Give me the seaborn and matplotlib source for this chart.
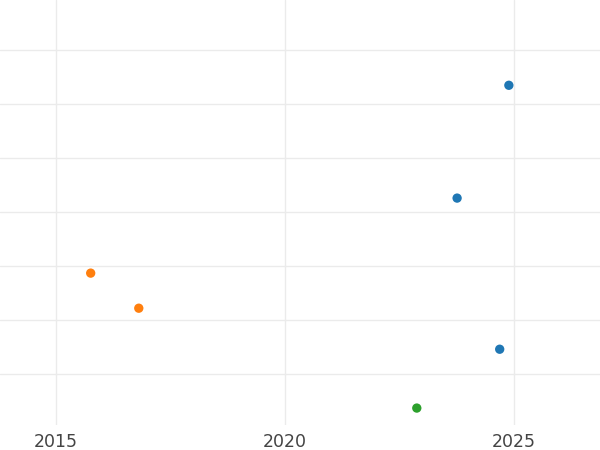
import pandas as pd
import seaborn as sns
import matplotlib.pyplot as plt

# values
years = [2024.89, 2023.76, 2024.69, 2015.76, 2016.81, 2022.88]
values = [5.35, 3.26, 0.46, 1.87, 1.22, -0.63]
groups = ["A", "A", "A", "B", "B", "C"]

df = pd.DataFrame({"year": years, "value": values, "group": groups})

sns.set_style("white")
fig = plt.figure(figsize=(6, 4.5), dpi=100)
ax = fig.add_axes([0, 0.056, 1, 0.944])

sns.scatterplot(data=df, x="year", y="value", hue="group",
                palette=["#1f77b4", "#ff7f0e", "#2ca02c"],
                s=45, edgecolor="none", legend=False, ax=ax, zorder=3)

ax.set_xlim(2013.78, 2026.88)
ax.set_ylim(-0.94, 6.93)
ax.set_xticks([2015, 2020, 2025])
ax.set_yticks([0, 1, 2, 3, 4, 5, 6])
ax.set_yticklabels([])
ax.grid(True, color="#ebebeb", linewidth=1)
ax.set_axisbelow(True)
for s in ax.spines.values():
    s.set_visible(False)
ax.tick_params(axis="x", length=0, labelsize=12.5, colors="#444444", pad=6)
ax.tick_params(axis="y", length=0)
ax.set_xlabel("")
ax.set_ylabel("")

fig.savefig("out.png", dpi=100)
